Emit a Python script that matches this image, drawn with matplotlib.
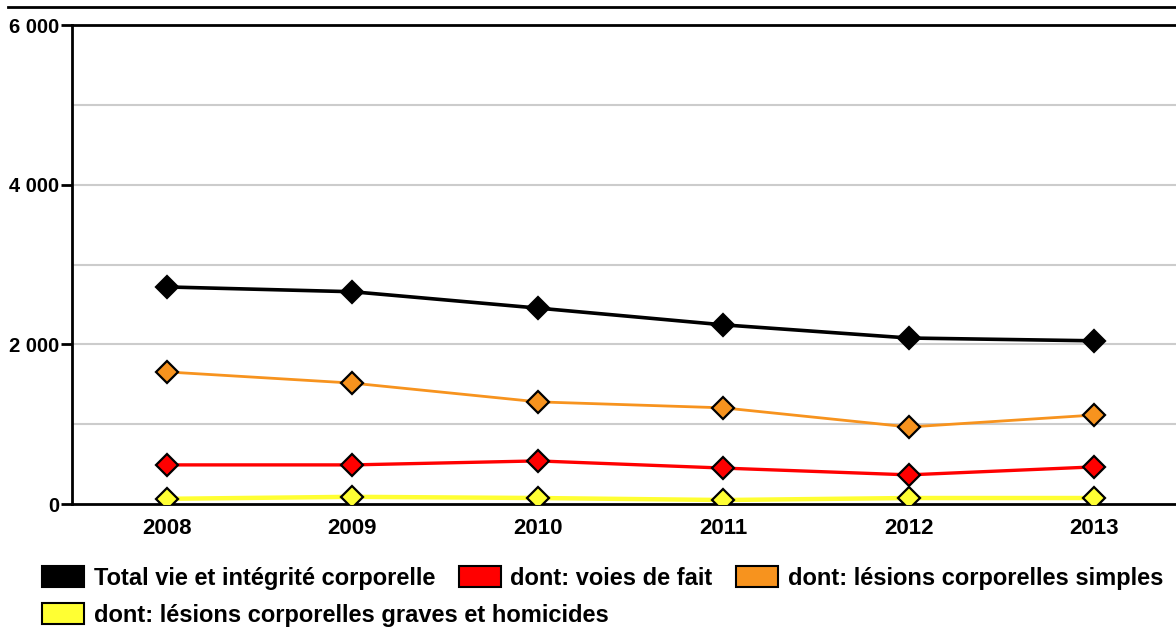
import matplotlib.pyplot as plt
from matplotlib.lines import Line2D
from matplotlib.patches import Patch

years = [2008, 2009, 2010, 2011, 2012, 2013]
total = [2720, 2660, 2455, 2245, 2080, 2045]
simples = [1655, 1515, 1280, 1205, 965, 1115]
voies = [490, 490, 540, 450, 365, 465]
graves = [65, 90, 75, 50, 75, 75]

labels = ["Total vie et intégrité corporelle", "dont: voies de fait",
          "dont: lésions corporelles simples",
          "dont: lésions corporelles graves et homicides"]
colors = ["#000000", "#ff0000", "#f7931e", "#ffff33"]
ytick_vals = [0, 2000, 4000, 6000]
ytick_labels = ["0", "2 000", "4 000", "6 000"]

plt.rcParams['font.family'] = ['Liberation Sans', 'DejaVu Sans']
plt.rcParams['font.weight'] = 'bold'

fig = plt.figure(figsize=(11.76, 6.3), dpi=100)
ax = fig.add_axes([0.0612, 0.2, 0.9388, 0.76])

# grid every 1000
for g in range(1000, 6000, 1000):
    ax.axhline(g, color="#cccccc", lw=1.5, zorder=0)

series = [(total, 2.6), (voies, 2.4), (simples, 2.0), (graves, 3.2)]
order = [3, 1, 2, 0]
for i in order:
    vals, lw = series[i]
    ax.plot(years, vals, color=colors[i], lw=lw, zorder=2 + (3 - i) * 0.1)
    ax.plot(years, vals, ls='none', marker='D', ms=11, mfc=colors[i],
            mec='black', mew=1.6, zorder=3)

ax.set_xlim(2007.488, 2013.44)
ax.set_ylim(0, 6000)
ax.set_xticks(years)
ax.set_xticklabels([str(y) for y in years], fontsize=16, fontweight='bold')
ax.set_yticks(ytick_vals)
ax.set_yticklabels(ytick_labels, fontsize=14.5, fontweight='bold')
ax.tick_params(axis='x', length=0, pad=10)
ax.tick_params(axis='y', length=8, width=2, pad=1)
for s in ['left', 'bottom', 'top']:
    ax.spines[s].set_linewidth(2)
ax.spines['right'].set_visible(False)

# title rule at the very top
fig.add_artist(Line2D([0.007, 1.0], [0.989, 0.989], color='black', lw=2))

handles = [Patch(facecolor=c, edgecolor='black', lw=1.5) for c in colors]
fig.legend(handles[:3], labels[:3], ncol=3, loc='center left',
           bbox_to_anchor=(0.018, 0.083), frameon=False,
           prop={'size': 17, 'weight': 'bold'}, handlelength=1.78,
           handleheight=1.0, handletextpad=0.4, columnspacing=1.0)
fig.legend(handles[3:], labels[3:], loc='center left',
           bbox_to_anchor=(0.018, 0.024), frameon=False,
           prop={'size': 17, 'weight': 'bold'}, handlelength=1.78,
           handleheight=1.0, handletextpad=0.4)

fig.savefig("out.png", dpi=100)
